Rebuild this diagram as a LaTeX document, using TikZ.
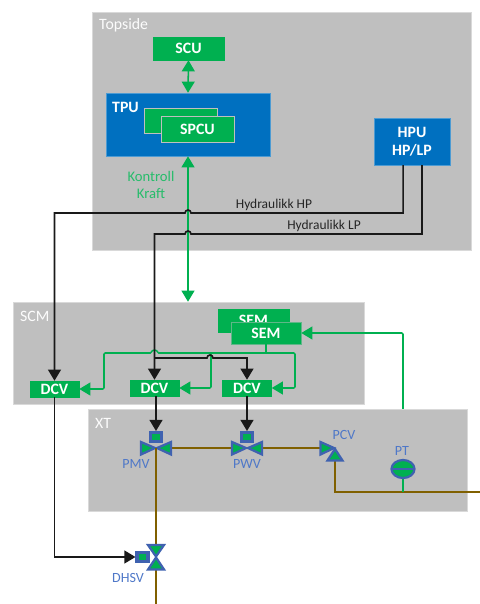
\documentclass[tikz,border=0pt]{standalone}
\usepackage{fontspec}
\setmainfont{Carlito}
\usetikzlibrary{arrows.meta}
\definecolor{gronnColor}{HTML}{00B050}
\definecolor{blaColor}{HTML}{0070C0}
\definecolor{graColor}{HTML}{BFBFBF}
\definecolor{roerColor}{HTML}{806000}
\definecolor{ventilColor}{HTML}{3F62B0}
\definecolor{tekstColor}{HTML}{4F78C8}
\begin{document}
\begin{tikzpicture}[x=0.03cm, y=-0.03cm, every node/.style={font=\fontsize{11.5pt}{14pt}\selectfont}]
	\tikzset{
		pilspiss/.style={-{Triangle[length=9.5pt,width=11pt]}},
		omrade/.style={fill=graColor, draw=graColor!60!white, line width=0.4pt, inner sep=0pt},
		omradetekst/.style={text=white!95!graColor, font=\fontsize{13.5pt}{15pt}\selectfont, anchor=west, inner sep=0pt},
		gronnboks/.style={fill=gronnColor, draw=gronnColor, line width=0.4pt, text=white, inner sep=0pt, font=\fontsize{13.5pt}{15pt}\selectfont\bfseries},
		blaboks/.style={fill=blaColor, draw=blaColor!70!white, line width=0.4pt, text=white, inner sep=0pt, align=center, font=\fontsize{13.5pt}{15.5pt}\selectfont\bfseries},
		dcvboks/.style={gronnboks, minimum width=1.47cm, minimum height=0.48cm},
		gronnlinje/.style={draw=gronnColor, line width=1.3pt, rounded corners=1pt},
		gronnpil/.style={gronnlinje, {Triangle[length=9.5pt,width=11pt]}-{Triangle[length=9.5pt,width=11pt]}},
		svartlinje/.style={draw=black!90, line width=1.4pt},
		svartpil/.style={svartlinje, pilspiss},
		roer/.style={draw=roerColor, line width=1.5pt},
		ventil/.style={draw=ventilColor, fill=gronnColor, line width=1.9pt, line join=miter},
		aktuator/.style={draw=ventilColor, fill=gronnColor, line width=2.6pt, inner sep=0pt, minimum width=9.4pt, minimum height=7.6pt},
		ventiltekst/.style={text=tekstColor, inner sep=0pt, font=\fontsize{12pt}{14pt}\selectfont}
	}
	\useasboundingbox (0,0) rectangle (480,604);
	\node[omrade, minimum width=11.37cm, minimum height=7.14cm] (topside) at (281.5,131) {};
	\node[omrade, minimum width=10.53cm, minimum height=3.06cm] (scm) at (188.5,353) {};
	\node[omrade, minimum width=11.37cm, minimum height=3.06cm] (xt) at (277.5,460) {};
	\node[omradetekst] (ltopside) at (99,25) {Topside};
	\node[omradetekst] (lscm) at (20,316) {SCM};
	\node[omradetekst] (lxt) at (95,423) {XT};

	\node[gronnboks, minimum width=2.13cm, minimum height=0.69cm] (scu) at (188.5,48.5) {SCU};
	\node[blaboks, minimum width=4.92cm, minimum height=1.89cm] (tpu) at (188,124.5) {};
	\node[text=white, inner sep=0pt, font=\fontsize{13.5pt}{15pt}\selectfont\bfseries, anchor=west] (ltpu) at (112,107) {TPU};
	\node[gronnboks, draw=graColor, minimum width=2.19cm, minimum height=0.75cm] (spcub) at (180.5,120.5) {};
	\node[gronnboks, draw=graColor, minimum width=2.19cm, minimum height=0.78cm] (spcu) at (197.5,129) {SPCU};
	\node[blaboks, minimum width=2.28cm, minimum height=1.41cm] (hpu) at (412,141.5) {HPU\\HP/LP};
	\node[gronnboks, minimum width=2.13cm, minimum height=0.69cm] (semb) at (253.5,320.5) {SEM};
	\node[gronnboks, draw=graColor!50!gronnColor, minimum width=2.10cm, minimum height=0.66cm] (sem) at (266,333) {SEM};
	\node[dcvboks] (dcv1) at (54.5,389) {DCV};
	\node[dcvboks] (dcv2) at (154.5,388) {DCV};
	\node[dcvboks] (dcv3) at (247,388) {DCV};

	\node[text=gronnColor!85!white, align=center, inner sep=0pt, font=\fontsize{12.5pt}{14pt}\selectfont] (kontroll) at (151,185) {Kontroll\\Kraft};
	\node[text=black!85, inner sep=0pt] (lhp) at (274,205) {Hydraulikk HP};
	\node[text=black!85, inner sep=0pt] (llp) at (324,226) {Hydraulikk LP};

	\coordinate (pmv) at (156,448);
	\coordinate (pwv) at (247,448);
	\coordinate (pcv) at (335,448);
	\coordinate (pt) at (403,469);
	\coordinate (dhsv) at (156,557);
	\coordinate (buss) at (266,353);
	\coordinate (grein) at (154.5,358);

	\draw[gronnpil] (scu.south) -- (tpu.north);
	\draw[gronnpil] (tpu.south) -- (tpu.south |- scm.north);
	\draw[gronnlinje] (sem.south) -- (buss);
	\draw[gronnlinje, pilspiss] (buss) -- (295,353) -- (295,388) -- (dcv3.east);
	\draw[gronnlinje, pilspiss] (buss) -- (157.5,353) arc[start angle=0, end angle=-180, radius=3] -- (104,353) -- (104,389) -- (dcv1.east);
	\draw[gronnlinje, pilspiss] (211,353) -- (211,388) -- (dcv2.east);
	\draw[gronnlinje, pilspiss] (pt |- xt.north) -- (403,333) -- (sem.east);

	\draw[svartpil] ([xshift=-7.6pt]hpu.south) |- (191,213) arc[start angle=0, end angle=-180, radius=3] -- (54.5,213) -- (dcv1.north);
	\draw[svartpil] ([xshift=8.5pt]hpu.south) |- (191,234) arc[start angle=0, end angle=-180, radius=3] -- (154.5,234) -- (dcv2.north);
	\draw[svartpil] (grein) -- (207,358) arc[start angle=180, end angle=360, radius=3] -- (247,358) -- (dcv3.north);

	\draw[roer] (pmv) -- (pwv);
	\draw[roer] (pwv) -- (pcv);
	\draw[roer] (pcv) -- (335,492) -- (480,492);
	\draw[roer] (pmv) -- (156,544);
	\draw[roer] (dhsv) -- (156,604);
	\draw[gronnlinje] (pt) -- (pt |- 0,492);

	\draw[ventil] (141,442) -- (155,448) -- (141,454.5) -- cycle;
	\draw[ventil] (171,442) -- (157,448) -- (171,454.5) -- cycle;
	\draw[ventil] (232,442) -- (246,448) -- (232,454.5) -- cycle;
	\draw[ventil] (262,442) -- (248,448) -- (262,454.5) -- cycle;
	\draw[ventil] (320.5,442) -- (334,448) -- (320.5,454.5) -- cycle;
	\draw[ventil] (335,449) -- (327.5,460.5) -- (342.5,460.5) -- cycle;
	\draw[ventil] (148,545) -- (156,556.5) -- (164,545) -- cycle;
	\draw[ventil] (148,569.5) -- (156,557.5) -- (164,569.5) -- cycle;
	\draw[roer] (pmv) -- (156,470);
	\draw[ventil] (pt) ellipse [x radius=11.5, y radius=9];
	\draw[draw=ventilColor, line width=1.4pt] (392,469) -- (414,469);

	\node[aktuator] (apmv) at (156,437) {};
	\node[aktuator] (apwv) at (247,437) {};
	\node[aktuator] (adhsv) at (142.5,557) {};
	\draw[svartpil] (apmv.north |- dcv2.south) -- (apmv.north);
	\draw[svartpil] (apwv.north |- dcv3.south) -- (apwv.north);
	\draw[svartpil] (dcv1.south) |- (adhsv.west);

	\node[ventiltekst] (lpmv) at (136,464) {PMV};
	\node[ventiltekst] (lpwv) at (247,464) {PWV};
	\node[ventiltekst] (lpcv) at (344,435) {PCV};
	\node[ventiltekst] (lpt) at (402,451) {PT};
	\node[ventiltekst] (ldhsv) at (128,578) {DHSV};
\end{tikzpicture}
\end{document}
